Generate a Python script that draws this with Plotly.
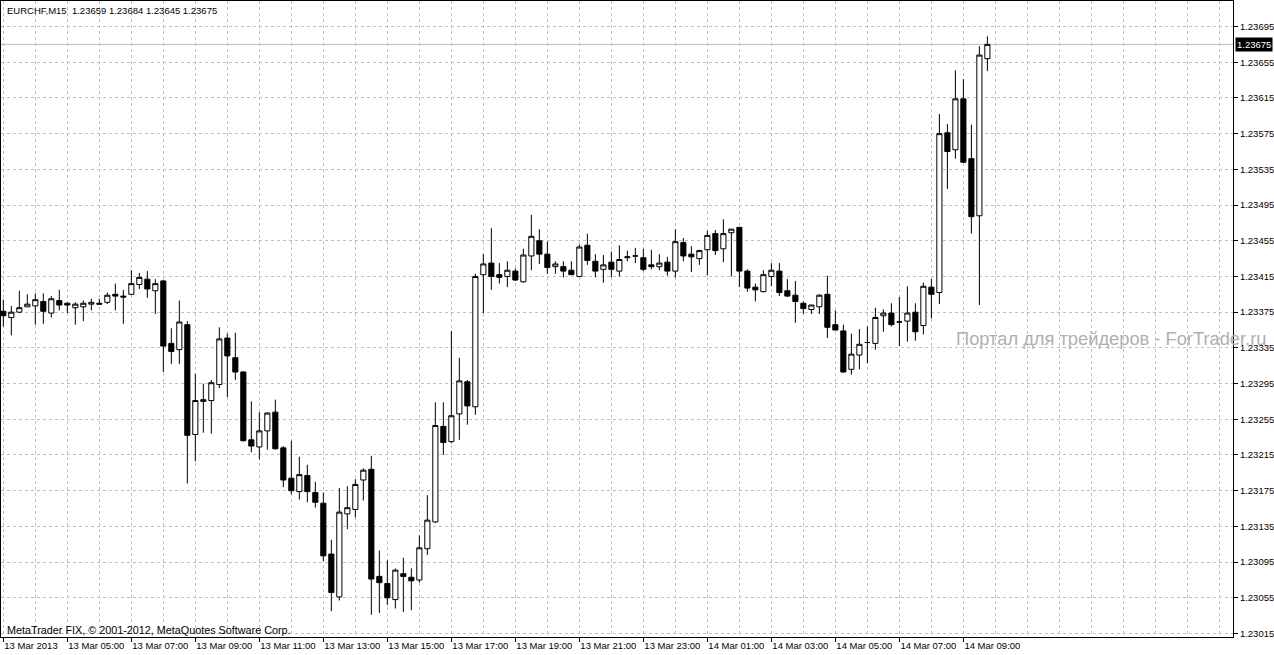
import plotly.graph_objects as go

# ---- data (EURCHF M15, 13 Mar 2013 03:00 .. 14 Mar 2013 09:45) ----
opens = [1.23376, 1.23369, 1.23375, 1.23381, 1.23382, 1.23387, 1.23374, 1.23388, 1.23385, 1.23380,
         1.23381, 1.23384, 1.23385, 1.23386, 1.23395, 1.23393, 1.23395, 1.23406, 1.23412, 1.23399,
         1.23410, 1.23340, 1.23333, 1.23361, 1.23238, 1.23275, 1.23276, 1.23294, 1.23346, 1.23324,
         1.23308, 1.23232, 1.23224, 1.23242, 1.23263, 1.23223, 1.23189, 1.23174, 1.23192, 1.23173,
         1.23161, 1.23104, 1.23056, 1.23149, 1.23154, 1.23187, 1.23199, 1.23079, 1.23071, 1.23053,
         1.23082, 1.23078, 1.23075, 1.23110, 1.23140, 1.23247, 1.23230, 1.23261, 1.23297, 1.23269,
         1.23417, 1.23430, 1.23417, 1.23415, 1.23421, 1.23409, 1.23438, 1.23455, 1.23440, 1.23426,
         1.23426, 1.23422, 1.23415, 1.23450, 1.23432, 1.23423, 1.23431, 1.23421, 1.23436, 1.23438,
         1.23436, 1.23428, 1.23426, 1.23431, 1.23421, 1.23453, 1.23440, 1.23435, 1.23445, 1.23463,
         1.23446, 1.23464, 1.23470, 1.23421, 1.23403, 1.23398, 1.23415, 1.23421, 1.23399, 1.23394,
         1.23385, 1.23378, 1.23381, 1.23395, 1.23361, 1.23354, 1.23311, 1.23327, 1.23341, 1.23340,
         1.23371, 1.23374, 1.23364, 1.23365, 1.23375, 1.23360, 1.23403, 1.23397, 1.23576, 1.23557,
         1.23614, 1.23547, 1.23483, 1.23659]
highs = [1.23389, 1.23382, 1.23399, 1.23395, 1.23396, 1.23396, 1.23393, 1.23400, 1.23386, 1.23386,
         1.23388, 1.23390, 1.23390, 1.23397, 1.23407, 1.23400, 1.23422, 1.23419, 1.23421, 1.23412,
         1.23411, 1.23357, 1.23388, 1.23365, 1.23306, 1.23295, 1.23299, 1.23358, 1.23351, 1.23352,
         1.23309, 1.23275, 1.23263, 1.23263, 1.23277, 1.23225, 1.23231, 1.23213, 1.23204, 1.23185,
         1.23173, 1.23120, 1.23178, 1.23180, 1.23188, 1.23200, 1.23214, 1.23108, 1.23097, 1.23088,
         1.23100, 1.23088, 1.23125, 1.23170, 1.23274, 1.23274, 1.23354, 1.23324, 1.23299, 1.23418,
         1.23440, 1.23469, 1.23430, 1.23432, 1.23424, 1.23446, 1.23484, 1.23468, 1.23454, 1.23432,
         1.23432, 1.23432, 1.23451, 1.23463, 1.23440, 1.23439, 1.23443, 1.23450, 1.23444, 1.23447,
         1.23446, 1.23445, 1.23440, 1.23437, 1.23468, 1.23458, 1.23449, 1.23445, 1.23466, 1.23467,
         1.23479, 1.23468, 1.23470, 1.23423, 1.23407, 1.23422, 1.23430, 1.23430, 1.23412, 1.23410,
         1.23387, 1.23383, 1.23395, 1.23416, 1.23377, 1.23361, 1.23351, 1.23356, 1.23359, 1.23380,
         1.23378, 1.23385, 1.23392, 1.23404, 1.23385, 1.23408, 1.23412, 1.23597, 1.23586, 1.23646,
         1.23636, 1.23585, 1.23673, 1.23684]
lows = [1.23359, 1.23349, 1.23374, 1.23381, 1.23361, 1.23362, 1.23369, 1.23377, 1.23374, 1.23361,
        1.23365, 1.23377, 1.23384, 1.23384, 1.23377, 1.23362, 1.23394, 1.23401, 1.23391, 1.23373,
        1.23308, 1.23317, 1.23317, 1.23183, 1.23208, 1.23240, 1.23239, 1.23290, 1.23280, 1.23299,
        1.23230, 1.23218, 1.23210, 1.23221, 1.23221, 1.23179, 1.23171, 1.23165, 1.23162, 1.23156,
        1.23096, 1.23040, 1.23052, 1.23132, 1.23145, 1.23164, 1.23036, 1.23038, 1.23047, 1.23043,
        1.23039, 1.23041, 1.23072, 1.23103, 1.23139, 1.23215, 1.23228, 1.23232, 1.23249, 1.23260,
        1.23374, 1.23400, 1.23407, 1.23403, 1.23410, 1.23408, 1.23422, 1.23429, 1.23418, 1.23418,
        1.23414, 1.23417, 1.23415, 1.23428, 1.23414, 1.23408, 1.23414, 1.23415, 1.23432, 1.23430,
        1.23421, 1.23423, 1.23422, 1.23416, 1.23414, 1.23432, 1.23420, 1.23428, 1.23416, 1.23439,
        1.23431, 1.23415, 1.23403, 1.23398, 1.23387, 1.23397, 1.23404, 1.23393, 1.23392, 1.23363,
        1.23373, 1.23373, 1.23373, 1.23346, 1.23355, 1.23307, 1.23305, 1.23311, 1.23318, 1.23333,
        1.23353, 1.23359, 1.23337, 1.23342, 1.23343, 1.23350, 1.23368, 1.23384, 1.23513, 1.23547,
        1.23542, 1.23463, 1.23383, 1.23645]
closes = [1.23371, 1.23375, 1.23380, 1.23384, 1.23389, 1.23376, 1.23390, 1.23383, 1.23383, 1.23384,
          1.23385, 1.23386, 1.23384, 1.23394, 1.23393, 1.23392, 1.23407, 1.23414, 1.23401, 1.23407,
          1.23337, 1.23331, 1.23364, 1.23237, 1.23276, 1.23277, 1.23296, 1.23345, 1.23326, 1.23308,
          1.23231, 1.23225, 1.23242, 1.23262, 1.23222, 1.23187, 1.23175, 1.23193, 1.23174, 1.23162,
          1.23102, 1.23061, 1.23151, 1.23156, 1.23182, 1.23198, 1.23076, 1.23072, 1.23055, 1.23086,
          1.23079, 1.23074, 1.23111, 1.23142, 1.23248, 1.23229, 1.23259, 1.23298, 1.23270, 1.23415,
          1.23429, 1.23415, 1.23414, 1.23422, 1.23411, 1.23439, 1.23460, 1.23440, 1.23425, 1.23429,
          1.23421, 1.23417, 1.23448, 1.23433, 1.23421, 1.23428, 1.23423, 1.23434, 1.23437, 1.23438,
          1.23423, 1.23426, 1.23430, 1.23421, 1.23454, 1.23438, 1.23437, 1.23444, 1.23461, 1.23444,
          1.23463, 1.23468, 1.23421, 1.23402, 1.23400, 1.23417, 1.23422, 1.23397, 1.23393, 1.23387,
          1.23379, 1.23383, 1.23394, 1.23358, 1.23355, 1.23308, 1.23328, 1.23339, 1.23341, 1.23369,
          1.23374, 1.23361, 1.23364, 1.23374, 1.23353, 1.23404, 1.23395, 1.23575, 1.23555, 1.23614,
          1.23543, 1.23482, 1.23663, 1.23675]

bar_index = list(range(len(opens)))

x_tick_positions = [0, 8, 16, 24, 32, 40, 48, 56, 64, 72, 80, 88, 96, 104, 112, 120]
x_tick_labels = ["13 Mar 2013", "13 Mar 05:00", "13 Mar 07:00", "13 Mar 09:00", "13 Mar 11:00",
                 "13 Mar 13:00", "13 Mar 15:00", "13 Mar 17:00", "13 Mar 19:00", "13 Mar 21:00",
                 "13 Mar 23:00", "14 Mar 01:00", "14 Mar 03:00", "14 Mar 05:00", "14 Mar 07:00",
                 "14 Mar 09:00"]
y_tick_values = [1.23015, 1.23055, 1.23095, 1.23135, 1.23175, 1.23215, 1.23255, 1.23295, 1.23335,
                 1.23375, 1.23415, 1.23455, 1.23495, 1.23535, 1.23575, 1.23615, 1.23655, 1.23695]
y_tick_labels = ["%.5f" % v for v in y_tick_values]

header_text = "EURCHF,M15  1.23659 1.23684 1.23645 1.23675"
footer_text = "MetaTrader FIX, © 2001-2012, MetaQuotes Software Corp."
watermark_text = "Портал для трейдеров - ForTrader.ru"

FONT = "Liberation Sans, Arial, sans-serif"
GRID = "#c0c0c0"

fig = go.Figure()
fig.add_trace(go.Candlestick(
    x=bar_index, open=opens, high=highs, low=lows, close=closes,
    increasing=dict(line=dict(color="black", width=1), fillcolor="white"),
    decreasing=dict(line=dict(color="black", width=1), fillcolor="black"),
    whiskerwidth=0, showlegend=False,
))

minor_vals = [v for v in range(0, 156, 4) if v not in x_tick_positions]

last_close = closes[-1]
fig.add_shape(type="line", xref="paper", x0=0, x1=1, yref="y", y0=last_close, y1=last_close,
              line=dict(color=GRID, width=1), layer="below")

fig.update_layout(
    width=1274, height=655,
    margin=dict(l=1, r=41, t=1, b=18, pad=0, autoexpand=False),
    paper_bgcolor="white", plot_bgcolor="white",
    boxgap=0.2, boxgroupgap=0.2,
    font=dict(family=FONT, size=9.5, color="black"),
    xaxis=dict(
        range=[-0.29, 153.7], rangeslider=dict(visible=False), automargin=False,
        tickvals=x_tick_positions, ticktext=x_tick_labels, tickangle=0,
        ticks="outside", ticklen=4, tickcolor="black", ticklabelposition="outside right",
        showgrid=True, gridcolor=GRID, griddash="3px,3px", gridwidth=1,
        minor=dict(tickvals=minor_vals, showgrid=True, gridcolor=GRID, griddash="3px,3px", ticks=""),
        showline=True, linecolor="black", linewidth=1, mirror=True, zeroline=False,
        tickfont=dict(family=FONT, size=9.5, color="black"),
    ),
    yaxis=dict(
        side="right", range=[1.230111, 1.237236], automargin=False,
        tickvals=y_tick_values, ticktext=y_tick_labels,
        ticks="outside", ticklen=4, tickcolor="black",
        showgrid=True, gridcolor=GRID, griddash="3px,3px", gridwidth=1,
        showline=True, linecolor="black", linewidth=1, mirror=True, zeroline=False,
        tickfont=dict(family=FONT, size=9.5, color="black"),
    ),
    annotations=[
        dict(text=header_text, xref="paper", yref="paper", x=0.0032, y=0.9858,
             xanchor="left", yanchor="middle", showarrow=False,
             font=dict(family=FONT, size=9.5, color="black")),
        dict(text=footer_text, xref="paper", yref="paper", x=0.0032, y=0.011,
             xanchor="left", yanchor="middle", showarrow=False,
             font=dict(family=FONT, size=10.8, color="black")),
        dict(text=watermark_text, xref="paper", yref="paper", x=1.0284, y=0.4686,
             xanchor="right", yanchor="middle", showarrow=False,
             font=dict(family=FONT, size=18.3, color="rgb(180,174,174)")),
        dict(text="%.5f" % last_close, xref="paper", yref="y", x=1.0, y=last_close,
             xanchor="left", yanchor="middle", xshift=2, showarrow=False,
             bgcolor="black", borderpad=1,
             font=dict(family=FONT, size=9.5, color="white")),
    ],
)

fig.write_html("out.html", config={"displayModeBar": False},
               post_script="document.body.style.margin='0px';document.body.style.overflow='hidden';")
